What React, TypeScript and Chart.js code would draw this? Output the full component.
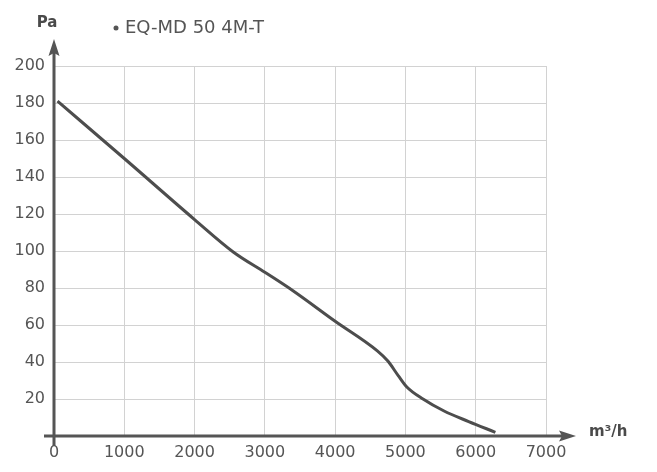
import React, { useEffect, useRef } from 'react';
import { Chart, registerables } from 'chart.js';
Chart.register(...registerables);

const seriesLabel = 'EQ-MD 50 4M-T';
const airflow = [50, 1000, 2000, 2550, 3000, 3400, 4000, 4600, 4750, 4900, 5020, 5250, 5550, 5900, 6280];
const pressure = [181, 150, 117, 99.5, 88.5, 78.5, 62, 46, 40.5, 32.5, 26.5, 20, 13.5, 7.8, 2];
const xTicks = [0, 1000, 2000, 3000, 4000, 5000, 6000, 7000];
const yTicks = [0, 20, 40, 60, 80, 100, 120, 140, 160, 180, 200];
const xUnit = 'm³/h';
const yUnit = 'Pa';

const FONT = "'DejaVu Sans', sans-serif";
const TEXT = '#555555';

const decorPlugin = {
  id: 'decor',
  afterDraw(chart: any) {
    const { ctx, chartArea } = chart;
    const { left, top, right, bottom } = chartArea;
    ctx.save();
    ctx.strokeStyle = '#555555';
    ctx.fillStyle = '#555555';
    ctx.lineWidth = 3;
    // x axis
    ctx.beginPath();
    ctx.moveTo(left - 10, bottom);
    ctx.lineTo(right + 20, bottom);
    ctx.stroke();
    ctx.beginPath();
    ctx.moveTo(right + 30, bottom);
    ctx.lineTo(right + 13, bottom - 5.5);
    ctx.lineTo(right + 16, bottom);
    ctx.lineTo(right + 13, bottom + 5.5);
    ctx.closePath();
    ctx.fill();
    // y axis
    ctx.beginPath();
    ctx.moveTo(left, bottom + 10);
    ctx.lineTo(left, top - 14);
    ctx.stroke();
    ctx.beginPath();
    ctx.moveTo(left, top - 27);
    ctx.lineTo(left - 5.5, top - 10);
    ctx.lineTo(left, top - 13);
    ctx.lineTo(left + 5.5, top - 10);
    ctx.closePath();
    ctx.fill();
    // unit labels
    ctx.fillStyle = '#4a4a4a';
    ctx.font = `bold 15px ${FONT}`;
    ctx.textBaseline = 'middle';
    ctx.textAlign = 'center';
    ctx.fillText(yUnit, left - 7, top - 43);
    ctx.textAlign = 'left';
    ctx.fillText(xUnit, right + 43, bottom - 4);
    // legend
    ctx.font = `18px ${FONT}`;
    ctx.fillStyle = TEXT;
    ctx.beginPath();
    ctx.arc(left + 62, top - 38, 2.5, 0, Math.PI * 2);
    ctx.fill();
    ctx.fillText(chart.data.datasets[0].label, left + 71, top - 38);
    ctx.restore();
  },
};

export default function App() {
  const ref = useRef<HTMLCanvasElement>(null);
  useEffect(() => {
    if (!ref.current) return;
    const chart = new Chart(ref.current, {
      type: 'line',
      data: {
        datasets: [
          {
            label: seriesLabel,
            data: airflow.map((x, i) => ({ x, y: pressure[i] })),
            borderColor: '#4d4d4d',
            borderWidth: 3,
            pointRadius: 0,
            cubicInterpolationMode: 'monotone',
            fill: false,
          },
        ],
      },
      options: {
        responsive: false,
        animation: false,
        layout: { padding: { left: 0, right: 111, top: 66, bottom: 0 } },
        plugins: { legend: { display: false }, tooltip: { enabled: false } },
        scales: {
          x: {
            type: 'linear',
            min: 0,
            max: 7000,
            afterBuildTicks: (s: any) => {
              s.ticks = xTicks.map((v) => ({ value: v }));
            },
            afterFit: (s: any) => {
              s.height = 36;
            },
            border: { display: false },
            grid: {
              drawTicks: false,
              color: (c: any) => (c.tick && c.tick.value === 0 ? 'rgba(0,0,0,0)' : '#d2d2d2'),
              lineWidth: 1,
            },
            ticks: {
              padding: 7,
              color: TEXT,
              font: { family: FONT, size: 16 },
              maxRotation: 0,
              autoSkip: false,
              callback: (v: any) => String(v),
            },
          },
          y: {
            type: 'linear',
            min: 0,
            max: 200,
            afterBuildTicks: (s: any) => {
              s.ticks = yTicks.map((v) => ({ value: v }));
            },
            afterFit: (s: any) => {
              s.width = 54;
            },
            border: { display: false },
            grid: {
              drawTicks: false,
              color: (c: any) => (c.tick && c.tick.value === 0 ? 'rgba(0,0,0,0)' : '#d2d2d2'),
              lineWidth: 1,
            },
            ticks: {
              padding: 9,
              color: TEXT,
              font: { family: FONT, size: 16 },
              autoSkip: false,
              callback: (v: any) => (v === 0 ? '' : String(v)),
            },
          },
        },
      },
      plugins: [decorPlugin],
    } as any);
    return () => chart.destroy();
  }, []);
  return (
    <div style={{ position: 'absolute', left: 0, top: 0, width: 657, height: 472, background: '#fff' }}>
      <canvas ref={ref} width={657} height={472} style={{ display: 'block' }} />
    </div>
  );
}
